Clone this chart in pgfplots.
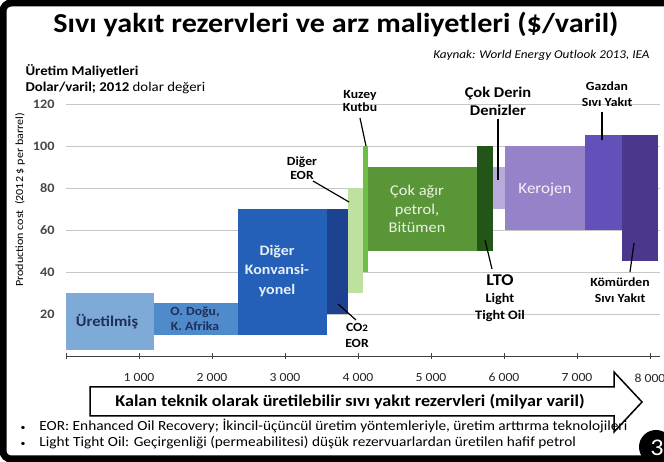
\documentclass[border=0pt]{standalone}
\usepackage{pgfplots}
\pgfplotsset{compat=1.18}
\usepackage{fontspec}
\setmainfont[FakeStretch=1.1]{Carlito}
\definecolor{cUret}{HTML}{7DAAD7}
\definecolor{cODogu}{HTML}{4F8ACB}
\definecolor{cKonv}{HTML}{2460B8}
\definecolor{cCO}{HTML}{1C4290}
\definecolor{cDEOR}{HTML}{BEE1A0}
\definecolor{cKuzey}{HTML}{6EBE46}
\definecolor{cAgir}{HTML}{5A9637}
\definecolor{cLTO}{HTML}{235519}
\definecolor{cDerin}{HTML}{B9AADC}
\definecolor{cKero}{HTML}{9682C8}
\definecolor{cGaz}{HTML}{6450B9}
\definecolor{cKomur}{HTML}{4B378C}
\definecolor{navy}{HTML}{1F2F5A}
\newcommand{\fs}[2]{\fontsize{#1}{#2}\selectfont}
\begin{document}
\begin{tikzpicture}[x=1bp,y=1bp]
\useasboundingbox (0,0) rectangle (664,462);
\fill[white] (0,0) rectangle (664,462);
\begin{axis}[at={(66bp,106bp)}, anchor=south west, scale only axis,
  width=594.2bp, height=252bp, xmin=0, xmax=8140, ymin=0, ymax=120, clip=false,
  /pgf/number format/assume math mode=true,
  axis x line*=bottom, axis y line*=left,
  y axis line style={draw=none}, x axis line style={draw=black!75, line width=0.8pt, -},
  ytick={20,40,...,120}, ytick style={draw=none},
  ymajorgrids, grid style={black!22, line width=0.6pt},
  xtick={0,1000,...,8000},
  xticklabels={,1 000,2 000,3 000,4 000,5 000,6 000,7 000,8 000},
  xtick style={draw=black!75, line width=0.8pt}, tick align=center, major tick length=6bp,
  xticklabel style={font=\fs{12.5}{14}, text=black!85, yshift=-11bp},
  yticklabel style={font=\bfseries\fs{13}{15}, text=black!72, xshift=-5bp},
]
% bars: (x0,y0) (x1,y0) (x1,y1) (x0,y1)
\addplot[draw=none, fill=cUret] coordinates {(0,3) (1200,3) (1200,30) (0,30)} -- cycle;
\addplot[draw=none, fill=cODogu] coordinates {(1200,10) (2360,10) (2360,25) (1200,25)} -- cycle;
\addplot[draw=none, fill=cKonv] coordinates {(2360,10) (3580,10) (3580,70) (2360,70)} -- cycle;
\addplot[draw=none, fill=cCO] coordinates {(3580,20) (3860,20) (3860,70) (3580,70)} -- cycle;
\addplot[draw=none, fill=cDEOR] coordinates {(3860,30) (4070,30) (4070,80) (3860,80)} -- cycle;
\addplot[draw=none, fill=cKuzey] coordinates {(4070,40) (4140,40) (4140,100) (4070,100)} -- cycle;
\addplot[draw=none, fill=cAgir] coordinates {(4140,50) (5630,50) (5630,90) (4140,90)} -- cycle;
\addplot[draw=none, fill=cLTO] coordinates {(5630,50) (5850,50) (5850,100) (5630,100)} -- cycle;
\addplot[draw=none, fill=cDerin] coordinates {(5850,70) (6010,70) (6010,90) (5850,90)} -- cycle;
\addplot[draw=none, fill=cKero] coordinates {(6010,60) (7110,60) (7110,100) (6010,100)} -- cycle;
\addplot[draw=none, fill=cGaz] coordinates {(7110,60) (7620,60) (7620,105) (7110,105)} -- cycle;
\addplot[draw=none, fill=cKomur] coordinates {(7620,45) (8110,45) (8110,105) (7620,105)} -- cycle;
\end{axis}
% frame
\draw[line width=7bp, rounded corners=8bp] (3,3) rectangle (720,459);
% title and headers
\node[font=\bfseries\fs{27.5}{30}] at (336,438) {Sıvı yakıt rezervleri ve arz maliyetleri (\$/varil)};
\node[anchor=east, font=\itshape\fs{12}{13}] at (653,407) {Kaynak: World Energy Outlook 2013, IEA};
\node[anchor=west, font=\bfseries\fs{13.5}{15}] at (22,391) {Üretim Maliyetleri};
\node[anchor=west, font=\fs{13.5}{15}] at (22,374) {\textbf{Dolar/varil; 2012} dolar değeri};
\node[rotate=90, font=\fs{11}{13}] at (20,262) {Production cost\ \ (2012 \$ per barrel)};
% bar labels
\node[text=navy, font=\bfseries\fs{15}{17}] at (107,140) {Üretilmiş};
\node[text=navy, align=center, font=\bfseries\fs{12.5}{15}] at (195,143) {O. Doğu,\\K. Afrika};
\node[text=white!90!cKonv, align=center, font=\bfseries\fs{14.5}{19.5}] at (277,191) {Diğer\\Konvansi-\\yonel};
\node[text=white!88!cAgir, align=center, font=\fs{15}{18.5}] at (417,253) {Çok ağır\\petrol,\\Bitümen};
\node[text=white!90!cKero, font=\fs{15.5}{17}] at (545,272) {Kerojen};
% annotations
\node[align=center, font=\bfseries\fs{12.5}{13.5}] at (360,361) {Kuzey\\Kutbu};
\draw[line width=1.2bp] (360,344) -- (366,316);
\node[align=center, font=\bfseries\fs{12.5}{13.5}] at (302,294) {Diğer\\EOR};
\draw[line width=1.2bp] (313,281) -- (349,260);
\node[align=center, font=\bfseries\fs{12.5}{16}] at (357,127) {CO{\fs{10}{10}2}\\EOR};
\draw[line width=1.2bp] (356,142) -- (338,158);
\node[align=center, font=\bfseries\fs{15}{18}] at (498,361) {Çok Derin\\Denizler};
\draw[line width=1.2bp] (498,343) -- (498,282);
\node[align=center, font=\bfseries\fs{13}{17}] at (500,164) {{\fs{16.5}{17}LTO}\\Light\\Tight Oil};
\draw[line width=1.2bp] (492,193) -- (485,222);
\node[align=center, font=\bfseries\fs{12.5}{16}] at (607,368) {Gazdan\\Sıvı Yakıt};
\draw[line width=1.2bp] (602,350) -- (602,322);
\node[align=center, font=\bfseries\fs{12.5}{16}] at (620,172) {Kömürden\\Sıvı Yakıt};
\draw[line width=1.2bp] (630,190) -- (634,219);
% x-axis arrow label
\draw[line width=1.5bp, fill=white] (90,46) -- (614,46) -- (614,30) -- (642,60) -- (614,90) -- (614,75) -- (90,75) -- cycle;
\node[font=\bfseries\fs{16.5}{18}] at (350,60) {Kalan teknik olarak üretilebilir sıvı yakıt rezervleri (milyar varil)};
% notes
\node[anchor=west, font=\fs{14}{15}] at (17,36) {{\fs{9}{10}•}\hspace{14bp}EOR: Enhanced Oil Recovery; İkincil-üçüncül üretim yöntemleriyle, üretim arttırma teknolojileri};
\node[anchor=west, font=\fs{14}{15}] at (17,19) {{\fs{9}{10}•}\hspace{14bp}Light Tight Oil: Geçirgenliği (permeabilitesi) düşük rezervuarlardan üretilen hafif petrol};
% page number
\fill[black] (656,15) circle (17);
\node[text=white, font=\fs{24}{26}] at (657,14) {3};
\end{tikzpicture}
\end{document}
